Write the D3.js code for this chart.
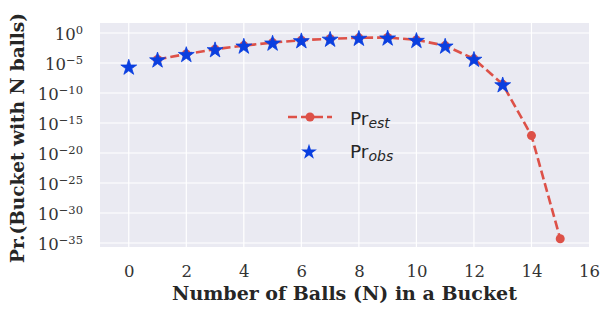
<!DOCTYPE html>
<html>
<head>
<meta charset="utf-8">
<script src="https://cdn.jsdelivr.net/npm/d3@7"></script>
<style>
  body { margin: 0; background: #fff; }
  svg { display: block; }
</style>
</head>
<body>
<svg id="svg" width="602" height="309"></svg>
<script>
// log10 of probabilities
var obsN = [0, 1, 2, 3, 4, 5, 6, 7, 8, 9, 10, 11, 12, 13];
var obsLog = [-5.6, -4.4, -3.5, -2.7, -2.1, -1.6, -1.2, -0.95, -0.8, -0.75, -1.15, -2.1, -4.3, -8.55];
var estN = [1, 2, 3, 4, 5, 6, 7, 8, 9, 10, 11, 12, 13, 14, 15];
var estLog = [-4.4, -3.5, -2.7, -2.1, -1.6, -1.2, -0.95, -0.8, -0.75, -1.15, -2.1, -4.3, -8.55, -17.1, -34.3];
var xTicks = [0, 2, 4, 6, 8, 10, 12, 14, 16];
var yTickExp = [0, -5, -10, -15, -20, -25, -30, -35];

var red = "#dd5148";
var blue = "#0a3fe0";

var svg = d3.select("#svg");
var margin = {top: 23, left: 100, right: 13, bottom: 62};
var width = 602, height = 309;
var gwidth = width - margin.left - margin.right,
    gheight = height - margin.top - margin.bottom;

var x = d3.scaleLinear().domain([-1, 16]).range([0, gwidth]);
var y = d3.scaleLog().domain([Math.pow(10, -35.67), Math.pow(10, 1.67)]).range([gheight, 0]);

var g = svg.append("g")
    .attr("transform", "translate(" + margin.left + "," + margin.top + ")");

g.append("rect")
    .attr("width", gwidth)
    .attr("height", gheight)
    .attr("fill", "#eaeaf2");

// grid
g.selectAll(".vgrid").data(xTicks.slice(0, -1)).enter().append("line")
    .attr("x1", function(d){ return x(d); })
    .attr("x2", function(d){ return x(d); })
    .attr("y1", 0).attr("y2", gheight)
    .attr("stroke", "#fff").attr("stroke-width", 1.2);
g.selectAll(".hgrid").data(yTickExp).enter().append("line")
    .attr("y1", function(d){ return y(Math.pow(10, d)); })
    .attr("y2", function(d){ return y(Math.pow(10, d)); })
    .attr("x1", 0).attr("x2", gwidth)
    .attr("stroke", "#fff").attr("stroke-width", 1.2);

// axes (ticks hidden, labels only)
var xAxis = d3.axisBottom(x).tickValues(xTicks).tickSize(0).tickPadding(18);
var gx = g.append("g")
    .attr("transform", "translate(0," + gheight + ")")
    .call(xAxis);
gx.select(".domain").remove();
gx.selectAll("text")
    .attr("font-family", "DejaVu Serif")
    .attr("font-size", 16.5)
    .attr("fill", "#333");

var gy = g.append("g");
yTickExp.forEach(function(e){
    var t = gy.append("text")
        .attr("x", -17)
        .attr("y", y(Math.pow(10, e)) + 7)
        .attr("text-anchor", "end")
        .attr("font-family", "DejaVu Serif")
        .attr("font-size", 16.5)
        .attr("fill", "#333");
    t.append("tspan").text("10");
    t.append("tspan")
        .attr("dy", -6)
        .attr("font-size", 11.5)
        .text(e === 0 ? "0" : "\u2212" + (-e));
});

// axis titles
svg.append("text")
    .attr("x", margin.left + gwidth / 2)
    .attr("y", 300)
    .attr("text-anchor", "middle")
    .attr("font-family", "DejaVu Serif")
    .attr("font-weight", "bold")
    .attr("font-size", 19)
    .attr("fill", "#262626")
    .text("Number of Balls (N) in a Bucket");

svg.append("text")
    .attr("transform", "translate(24,263) rotate(-90)")
    .attr("text-anchor", "start")
    .attr("font-family", "DejaVu Serif")
    .attr("font-weight", "bold")
    .attr("font-size", 18.5)
    .attr("fill", "#262626")
    .text("Pr.(Bucket with N balls)");

// estimated line
var est = estN.map(function(n, i){ return {n: n, v: Math.pow(10, estLog[i])}; });
var obs = obsN.map(function(n, i){ return {n: n, v: Math.pow(10, obsLog[i])}; });

var line = d3.line()
    .x(function(d){ return x(d.n); })
    .y(function(d){ return y(d.v); });

g.append("path").datum(est)
    .attr("fill", "none")
    .attr("stroke", red)
    .attr("stroke-width", 2.6)
    .attr("stroke-dasharray", "9,4")
    .attr("d", line);

g.selectAll(".estpt").data(est).enter().append("circle")
    .attr("cx", function(d){ return x(d.n); })
    .attr("cy", function(d){ return y(d.v); })
    .attr("r", 4.5)
    .attr("fill", red);

var star = d3.symbol().type(d3.symbolStar).size(78);
g.selectAll(".obspt").data(obs).enter().append("path")
    .attr("d", star)
    .attr("transform", function(d){ return "translate(" + x(d.n) + "," + (y(d.v) + 1) + ")"; })
    .attr("fill", blue)
    .attr("stroke", blue)
    .attr("stroke-width", 0.8);

// legend
var lg = svg.append("g");
lg.append("line")
    .attr("x1", 287).attr("x2", 332)
    .attr("y1", 117).attr("y2", 117)
    .attr("stroke", red)
    .attr("stroke-width", 2.6)
    .attr("stroke-dasharray", "9,4")
    .attr("stroke-dashoffset", -1);
lg.append("circle")
    .attr("cx", 310).attr("cy", 117).attr("r", 4.5)
    .attr("fill", red);
lg.append("path")
    .attr("d", star)
    .attr("transform", "translate(309,152)")
    .attr("fill", blue);

[["est", 125], ["obs", 158]].forEach(function(r){
    var t = lg.append("text")
        .attr("x", 350)
        .attr("y", r[1])
        .attr("font-family", "DejaVu Sans")
        .attr("font-size", 18.5)
        .attr("fill", "#262626");
    t.append("tspan").text("Pr");
    t.append("tspan")
        .attr("dy", 3)
        .attr("font-size", 14)
        .attr("font-style", "italic")
        .text(r[0]);
});
</script>
</body>
</html>
